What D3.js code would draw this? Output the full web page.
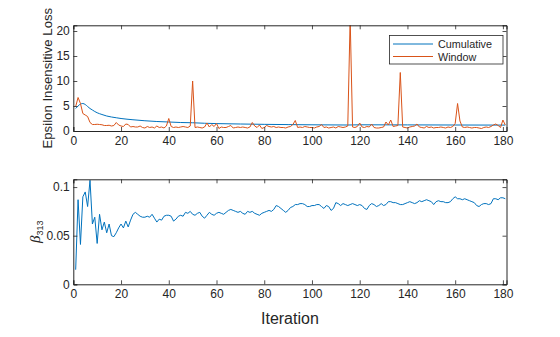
<!DOCTYPE html>
<html>
<head>
<meta charset="utf-8">
<script src="https://cdn.jsdelivr.net/npm/d3@7"></script>
<style>
  html, body { margin: 0; padding: 0; background: #fff; }
  svg { display: block; }
  text { font-family: "Liberation Sans", Arial, Helvetica, sans-serif; fill: #262626; }
</style>
</head>
<body>
<svg id="chart" width="560" height="337"></svg>
<script>
// ---------------- data ----------------
// Window loss, iterations 1..181
const windowLoss = [
  4.9, 6.7, 5.5, 3.5, 3.2, 2.9, 1.7, 1.3, 1.3, 1.35,
  1.3, 1.25, 1.1, 1.1, 1.15, 1.0, 1.1, 1.7, 1.2, 1.0,
  0.9, 1.4, 1.3, 0.8, 0.9, 0.8, 0.8, 1.0, 0.7, 0.6,
  0.9, 0.7, 0.8, 0.6, 1.0, 0.7, 0.8, 0.6, 1.0, 2.5,
  0.9, 0.7, 0.8, 0.7, 0.8, 0.9, 0.8, 0.7, 1.0, 10.0,
  0.7, 0.8, 0.7, 0.6, 0.8, 1.6, 0.8, 1.3, 0.9, 1.5,
  0.5, 0.8, 0.7, 0.7, 0.9, 1.1, 0.6, 0.7, 0.8, 0.7,
  0.8, 0.7, 0.6, 0.8, 1.7, 1.0, 0.7, 1.2, 0.5, 0.7,
  1.1, 0.9, 0.8, 0.9, 0.7, 0.8, 0.7, 0.7, 0.6, 0.8,
  0.9, 1.3, 2.1, 0.7, 0.8, 0.7, 0.9, 0.8, 0.7, 0.7,
  0.6, 0.8, 0.9, 1.3, 0.7, 0.8, 0.6, 0.7, 0.8, 0.6,
  0.9, 0.8, 0.7, 0.8, 1.0, 22.5, 0.8, 0.7, 0.9, 1.6,
  0.8, 0.7, 0.9, 0.8, 1.4, 0.7, 0.6, 0.6, 0.7, 0.8,
  1.8, 1.2, 2.2, 0.9, 1.0, 1.1, 11.7, 0.8, 0.7, 0.6,
  0.8, 0.9, 1.0, 1.4, 0.8, 0.7, 0.6, 0.9, 0.7, 0.8,
  0.6, 0.7, 0.7, 0.8, 0.7, 0.6, 0.8, 0.7, 0.9, 1.5,
  5.5, 2.0, 0.8, 0.7, 0.8, 0.7, 0.6, 0.7, 0.7, 0.6,
  0.5, 0.7, 0.8, 0.7, 0.9, 1.2, 1.4, 1.1, 0.7, 2.2,
  1.2
];
// Cumulative loss, sampled iterations
const cumIter = [1, 2, 3, 4, 5, 6, 7, 8, 9, 10, 12, 14, 16, 18, 20, 25, 30, 35, 40, 45, 50, 55, 60, 70, 80, 90, 100, 115, 120, 140, 160, 181];
const cumLoss = [4.5, 5.0, 5.4, 5.5, 5.3, 4.9, 4.5, 4.2, 3.9, 3.65, 3.3, 3.0, 2.8, 2.65, 2.5, 2.25, 2.05, 1.9, 1.8, 1.7, 1.65, 1.55, 1.48, 1.4, 1.33, 1.28, 1.24, 1.2, 1.24, 1.22, 1.2, 1.18];
// beta_313, iterations 1..181
const beta313 = [
  0.015, 0.087, 0.041, 0.090, 0.095, 0.080, 0.107, 0.062, 0.069, 0.042,
  0.072, 0.056, 0.064, 0.053, 0.062, 0.050, 0.049, 0.053, 0.058, 0.062,
  0.058, 0.065, 0.059, 0.066, 0.072, 0.074, 0.072, 0.070, 0.069, 0.069,
  0.070, 0.069, 0.072, 0.068, 0.064, 0.067, 0.066, 0.070, 0.071, 0.071,
  0.070, 0.065, 0.067, 0.070, 0.071, 0.070, 0.074, 0.073, 0.075, 0.072,
  0.071, 0.073, 0.074, 0.070, 0.068, 0.071, 0.074, 0.072, 0.071, 0.073,
  0.074, 0.073, 0.072, 0.074, 0.076, 0.077, 0.076, 0.075, 0.074, 0.075,
  0.073, 0.072, 0.075, 0.074, 0.075, 0.073, 0.072, 0.071, 0.073, 0.074,
  0.075, 0.076, 0.075, 0.077, 0.081, 0.080, 0.078, 0.076, 0.074, 0.076,
  0.079, 0.080, 0.082, 0.082, 0.083, 0.083, 0.082, 0.080, 0.080, 0.081,
  0.081, 0.082, 0.082, 0.080, 0.078, 0.081, 0.080, 0.076, 0.078, 0.084,
  0.083, 0.081, 0.083, 0.082, 0.081, 0.082, 0.083, 0.082, 0.081, 0.082,
  0.081, 0.078, 0.077, 0.081, 0.083, 0.082, 0.080, 0.081, 0.083, 0.081,
  0.082, 0.085, 0.085, 0.084, 0.084, 0.083, 0.082, 0.082, 0.083, 0.084,
  0.085, 0.084, 0.083, 0.084, 0.086, 0.085, 0.086, 0.087, 0.086, 0.085,
  0.082, 0.085, 0.086, 0.085, 0.085, 0.084, 0.084, 0.085, 0.088, 0.090,
  0.088, 0.088, 0.087, 0.088, 0.087, 0.086, 0.085, 0.084, 0.081, 0.080,
  0.082, 0.083, 0.083, 0.082, 0.083, 0.088, 0.088, 0.087, 0.089, 0.089,
  0.088
];
const xTicks = [0, 20, 40, 60, 80, 100, 120, 140, 160, 180];
const lossTicks = [0, 5, 10, 15, 20];
const betaTicks = [0, 0.05, 0.1];
const betaTickLabels = ["0", "0.05", "0.1"];
const seriesNames = ["Cumulative", "Window"];
const seriesColors = ["#0072BD", "#D95319"];

// ---------------- layout ----------------
const svg = d3.select("#chart");
const L = 73.3, R = 506.5;
const top1 = 25.3, bot1 = 131;
const top2 = 179.3, bot2 = 284.3;
const axisColor = "#262626";
const tickLen = 4;
const tickFont = "12px";

const x = d3.scaleLinear().domain([0, 181.5]).range([L, R]);
const y1 = d3.scaleLinear().domain([0, 21.14]).range([bot1, top1]);
const y2 = d3.scaleLinear().domain([0, 0.108]).range([bot2, top2]);

const defs = svg.append("defs");
defs.append("clipPath").attr("id", "clip1").append("rect")
  .attr("x", L).attr("y", top1).attr("width", R - L).attr("height", bot1 - top1);
defs.append("clipPath").attr("id", "clip2").append("rect")
  .attr("x", L).attr("y", top2).attr("width", R - L).attr("height", bot2 - top2);

function drawAxes(y, yTop, yBot, yTicks, yFmt) {
  const g = svg.append("g");
  const bx = d3.axisBottom(x).tickValues(xTicks).tickSize(-tickLen).tickPadding(5).tickFormat(d3.format("d"));
  const gb = g.append("g").attr("transform", `translate(0,${yBot})`).call(bx);
  const tx = d3.axisTop(x).tickValues(xTicks).tickSize(-tickLen).tickFormat("");
  const gt = g.append("g").attr("transform", `translate(0,${yTop})`).call(tx);
  const ly = d3.axisLeft(y).tickValues(yTicks).tickSize(-tickLen).tickPadding(3.5).tickFormat(yFmt);
  const gl = g.append("g").attr("transform", `translate(${L},0)`).call(ly);
  const ry = d3.axisRight(y).tickValues(yTicks).tickSize(-tickLen).tickFormat("");
  const gr = g.append("g").attr("transform", `translate(${R},0)`).call(ry);
  [gb, gt, gl, gr].forEach(a => {
    a.select(".domain").attr("stroke", axisColor).attr("stroke-width", 1);
    a.selectAll(".tick line").attr("stroke", axisColor).attr("stroke-width", 0.8);
    a.selectAll(".tick text").attr("fill", axisColor)
      .style("font-size", tickFont).style("font-family", '"Liberation Sans", Arial, sans-serif');
  });
  return g;
}

// ---------------- top plot ----------------
svg.append("rect").attr("x", L).attr("y", top1).attr("width", R - L).attr("height", bot1 - top1).attr("fill", "#fff");
const lineCum = d3.line().x((d, i) => x(cumIter[i])).y(d => y1(d)).curve(d3.curveMonotoneX);
const lineWin = d3.line().x((d, i) => x(i + 1)).y(d => y1(d));
const p1 = svg.append("g").attr("clip-path", "url(#clip1)");
p1.append("path").datum(cumLoss).attr("d", lineCum)
  .attr("fill", "none").attr("stroke", seriesColors[0]).attr("stroke-width", 1);
p1.append("path").datum(windowLoss).attr("d", lineWin)
  .attr("fill", "none").attr("stroke", seriesColors[1]).attr("stroke-width", 1);
drawAxes(y1, top1, bot1, lossTicks, d3.format("d"));

svg.append("text")
  .attr("transform", `translate(51.5,${(top1 + bot1) / 2}) rotate(-90)`)
  .attr("text-anchor", "middle")
  .style("font-size", "13.2px")
  .text("Epsilon Insensitive Loss");

// legend
const lg = svg.append("g");
lg.append("rect").attr("x", 389.5).attr("y", 35.5).attr("width", 113.5).attr("height", 28.5)
  .attr("fill", "#fff").attr("stroke", axisColor).attr("stroke-width", 0.8);
seriesNames.forEach((name, i) => {
  const yy = 44 + i * 12.5;
  lg.append("line").attr("x1", 393).attr("x2", 433).attr("y1", yy).attr("y2", yy)
    .attr("stroke", seriesColors[i]).attr("stroke-width", 1);
  lg.append("text").attr("x", 438).attr("y", yy + 4).style("font-size", "10.8px").text(name);
});

// ---------------- bottom plot ----------------
svg.append("rect").attr("x", L).attr("y", top2).attr("width", R - L).attr("height", bot2 - top2).attr("fill", "#fff");
const lineBeta = d3.line().x((d, i) => x(i + 1)).y(d => y2(d));
const p2 = svg.append("g").attr("clip-path", "url(#clip2)");
p2.append("path").datum(beta313).attr("d", lineBeta)
  .attr("fill", "none").attr("stroke", seriesColors[0]).attr("stroke-width", 1);
drawAxes(y2, top2, bot2, betaTicks, (d, i) => betaTickLabels[i]);

const bl = svg.append("text")
  .attr("transform", `translate(40,${(top2 + bot2) / 2}) rotate(-90)`)
  .attr("text-anchor", "middle")
  .style("font-size", "13px");
bl.append("tspan").style("font-family", '"Liberation Serif", "Times New Roman", serif').style("font-style", "italic").style("font-size", "15px").text("β");
bl.append("tspan").attr("dy", 3).style("font-size", "9px").text("313");

svg.append("text")
  .attr("x", (L + R) / 2).attr("y", 324)
  .attr("text-anchor", "middle")
  .style("font-size", "16px")
  .text("Iteration");
</script>
</body>
</html>
